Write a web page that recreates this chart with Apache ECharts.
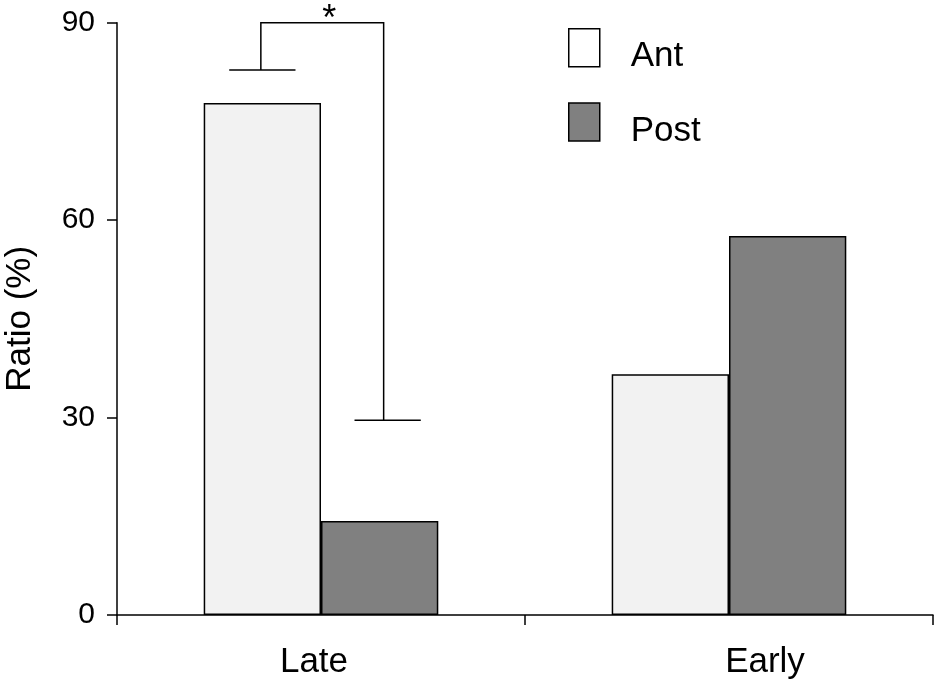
<!DOCTYPE html>
<html>
<head>
<meta charset="utf-8">
<script src="https://cdn.jsdelivr.net/npm/echarts@6/dist/echarts.min.js"></script>
<style>html,body{margin:0;padding:0;background:#fff}#c{width:935px;height:696px}</style>
</head>
<body>
<div id="c"></div>
<script>
var categories = ['Late', 'Early'];
var antValues = [77.8, 36.6];
var postValues = [14.3, 57.6];
var yTicks = [0, 30, 60, 90];
// significance bracket for Late: cap of Ant, cap of Post, bracket height
var antErrTop = [82.8];
var postErrTop = [29.6];
var bracketY = [90];
var sigLabel = '*';

var FONT = '"Liberation Sans", Arial, sans-serif';
var chart = echarts.init(document.getElementById('c'), null, {renderer: 'canvas'});
var catGap = 0.425;

var option = {
  backgroundColor: '#fff',
  animation: false,
  grid: {left: 117, right: 2, top: 22.7, bottom: 81, containLabel: false, outerBoundsMode: 'none'},
  legend: {
    orient: 'vertical', left: 563, top: 23,
    itemWidth: 31, itemHeight: 38, itemGap: 28,
    icon: 'rect',
    formatter: '{t|{name}}',
    textStyle: {
      fontFamily: FONT, fontSize: 35, color: '#000', padding: [0, 0, 0, 26],
      rich: {t: {fontFamily: FONT, fontSize: 35, color: '#000', padding: [18, 0, 0, 0]}}
    },
    data: [
      {name: 'Ant', itemStyle: {color: '#fff', borderColor: '#000', borderWidth: 1.5}},
      {name: 'Post', itemStyle: {color: '#808080', borderColor: '#000', borderWidth: 1.5}}
    ]
  },
  xAxis: {
    type: 'category',
    data: categories,
    boundaryGap: true,
    axisLine: {lineStyle: {color: '#000', width: 1.5}},
    axisTick: {show: true, length: 10, lineStyle: {color: '#000', width: 1.5}},
    axisLabel: {
      margin: 30, color: '#000', fontFamily: FONT, fontSize: 35,
      formatter: function (v) { return v === 'Late' ? '{l|' + v + '}' : '{e|' + v + '}'; },
      rich: {
        l: {fontFamily: FONT, fontSize: 35, color: '#000', padding: [0, 14, 0, 0]},
        e: {fontFamily: FONT, fontSize: 35, color: '#000', padding: [0, 0, 0, 72]}
      }
    },
    splitLine: {show: false}
  },
  yAxis: {
    type: 'value',
    min: yTicks[0], max: yTicks[yTicks.length - 1], interval: 30,
    name: 'Ratio (%)', nameLocation: 'middle', nameGap: 79,
    nameTextStyle: {fontFamily: FONT, fontSize: 35, color: '#000'},
    axisLine: {show: true, lineStyle: {color: '#000', width: 1.5}},
    axisTick: {show: true, length: 10, lineStyle: {color: '#000', width: 1.5}},
    axisLabel: {margin: 22, color: '#000', fontFamily: FONT, fontSize: 30},
    splitLine: {show: false}
  },
  series: [
    {
      name: 'Ant', type: 'bar', data: antValues,
      barGap: '0%', barCategoryGap: (catGap * 100) + '%',
      itemStyle: {color: '#f2f2f2', borderColor: '#000', borderWidth: 1.5}
    },
    {
      name: 'Post', type: 'bar', data: postValues,
      barGap: '0%', barCategoryGap: (catGap * 100) + '%',
      itemStyle: {color: '#808080', borderColor: '#000', borderWidth: 1.5}
    },
    {
      name: 'sig', type: 'custom', clip: false, z: 5,
      data: [[0, antErrTop[0], postErrTop[0], bracketY[0]]],
      encode: {x: 0, y: [1, 2, 3]},
      renderItem: function (params, api) {
        var ci = api.value(0);
        var c0 = api.coord([ci, 0]);
        var bandW = api.size([1, 0])[0];
        var bw = bandW * (1 - catGap) / 2;
        var antX = c0[0] - bw / 2;
        var postX = c0[0] + bw / 2;
        var yA = api.coord([ci, api.value(1)])[1];
        var yP = api.coord([ci, api.value(2)])[1];
        var yB = api.coord([ci, api.value(3)])[1];
        var capW = bw * 0.565;
        var antV = antX - 1.5;
        var postV = postX + 4;
        var postCapC = postX + 8;
        var ls = {stroke: '#000', lineWidth: 1.5};
        return {
          type: 'group',
          children: [
            {type: 'line', shape: {x1: antX - capW / 2, y1: yA, x2: antX + capW / 2, y2: yA}, style: ls},
            {type: 'line', shape: {x1: postCapC - capW / 2, y1: yP, x2: postCapC + capW / 2, y2: yP}, style: ls},
            {type: 'polyline', shape: {points: [[antV, yA], [antV, yB], [postV, yB], [postV, yP]]}, style: {stroke: '#000', lineWidth: 1.5, fill: null}},
            {type: 'text', style: {text: sigLabel, x: (antV + postV) / 2 + 7, y: yB - 3, textAlign: 'center', textVerticalAlign: 'middle', font: '36px ' + FONT, fill: '#000'}}
          ]
        };
      }
    }
  ]
};
chart.setOption(option);
</script>
</body>
</html>
